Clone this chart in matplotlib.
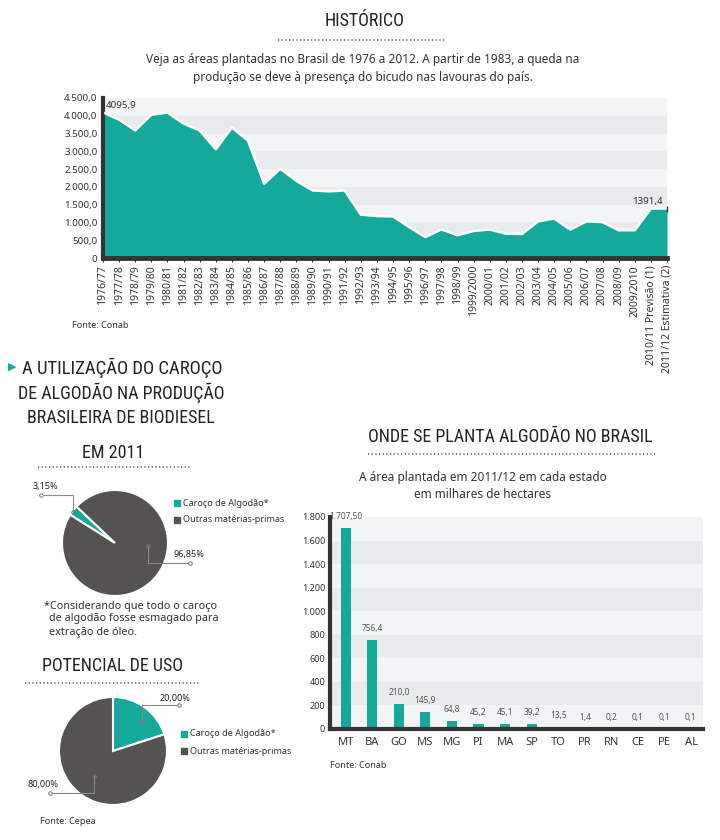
"""Infográfico algodão: histórico de área plantada, biodiesel e área por estado."""
import numpy as np
import matplotlib
matplotlib.use("Agg")
import matplotlib.pyplot as plt

W, H = 720, 840
TEAL = "#15a99b"
DARK = "#555351"
AXIS = "#333333"
TXT = "#333333"
BAND_A = "#f3f4f5"
BAND_B = "#e9eaec"

# ---- dados ----
safras = ["1976/77", "1977/78", "1978/79", "1979/80", "1980/81", "1981/82", "1982/83",
          "1983/84", "1984/85", "1985/86", "1986/87", "1987/88", "1988/89", "1989/90",
          "1990/91", "1991/92", "1992/93", "1993/94", "1994/95", "1995/96", "1996/97",
          "1997/98", "1998/99", "1999/2000", "2000/01", "2001/02", "2002/03", "2003/04",
          "2004/05", "2005/06", "2006/07", "2007/08", "2008/09", "2009/2010",
          "2010/11 Previsão (1)", "2011/12 Estimativa (2)"]
area_hist = [4095.9, 3890, 3590, 4030, 4090, 3780, 3590, 3060, 3670, 3300, 2090, 2510,
             2170, 1900, 1875, 1900, 1220, 1180, 1170, 870, 590, 805, 640, 760, 800, 685,
             675, 1030, 1110, 800, 1030, 1010, 780, 780, 1390, 1391.4]

estados = ["MT", "BA", "GO", "MS", "MG", "PI", "MA", "SP", "TO", "PR", "RN", "CE", "PE", "AL"]
area_estado = [1707.5, 756.4, 210.0, 145.9, 64.8, 45.2, 45.1, 39.2, 13.5, 1.4, 0.2, 0.1, 0.1, 0.1]
rotulos_estado = ["1.707,50", "756,4", "210,0", "145,9", "64,8", "45,2", "45,1", "39,2",
                  "13,5", "1,4", "0,2", "0,1", "0,1", "0,1"]

pie_2011 = [3.15, 96.85]
pie_potencial = [20.0, 80.0]
pie_nomes = ["Caroço de Algodão*", "Outras matérias-primas"]

plt.rcParams["font.family"] = ["Noto Sans", "DejaVu Sans"]
COND = ["Roboto Condensed", "DejaVu Sans Condensed", "Liberation Sans Narrow", "Noto Sans"]


def box(x0, y0, x1, y1):
    return [x0 / W, 1 - y1 / H, (x1 - x0) / W, (y1 - y0) / H]


def br(v, dec=1, sep=True):
    s = f"{v:,.{dec}f}" if sep else f"{v:.{dec}f}"
    return s.replace(",", "X").replace(".", ",").replace("X", ".")


fig = plt.figure(figsize=(7.2, 8.4), dpi=100)

# ==================== histórico (área) ====================
ax = fig.add_axes(box(103, 98, 667, 258))
x = np.arange(len(safras))
for lo in range(0, 4500, 500):
    ax.axhspan(lo, lo + 500, color=BAND_B if (lo // 500) % 2 else BAND_A, lw=0, zorder=0)
ax.fill_between(x, area_hist, color=TEAL, lw=0, zorder=2)
ax.plot(x, area_hist, color="white", lw=1.8, zorder=3)
ax.set_xlim(0, len(safras) - 1)
ax.set_ylim(0, 4500)
ax.set_yticks(range(0, 4501, 500))
ax.set_yticklabels(["0"] + [br(v) for v in range(500, 4501, 500)], fontsize=7, color=TXT)
ax.set_xticks(x)
ax.set_xticklabels(safras, rotation=90, fontsize=7.5, color=TXT)
for lbl in ax.get_xticklabels()[-2:]:
    lbl.set_fontweight("bold")
ax.tick_params(axis="y", length=0, pad=4)
ax.tick_params(axis="x", length=3, color=AXIS, pad=2)
for s in ["top", "right"]:
    ax.spines[s].set_visible(False)
ax.spines["left"].set_linewidth(3)
ax.spines["left"].set_color(AXIS)
ax.spines["bottom"].set_linewidth(3.5)
ax.spines["bottom"].set_color(AXIS)
ax.plot(0, area_hist[0], marker="|", ms=5, color=AXIS, zorder=4, clip_on=False)
ax.annotate(br(area_hist[0], sep=False), (0, area_hist[0]), xytext=(2, 2),
            textcoords="offset points", fontsize=7, color=TXT, ha="left", va="bottom")
ax.plot(x[-1], area_hist[-1], marker="|", ms=5, color=AXIS, zorder=4, clip_on=False)
ax.annotate(br(area_hist[-1], sep=False), (x[-1], area_hist[-1]), xytext=(-3, 2),
            textcoords="offset points", fontsize=7, color=TXT, ha="right", va="bottom")

# ==================== área por estado (barras) ====================
bx = fig.add_axes(box(330, 517, 703, 729))
xb = np.arange(len(estados))
for lo in range(0, 1800, 200):
    bx.axhspan(lo, lo + 200, color=BAND_B if (lo // 200) % 2 else BAND_A, lw=0, zorder=0)
bx.bar(xb, area_estado, width=0.38, color=TEAL, zorder=2)
for xi, v, t in zip(xb, area_estado, rotulos_estado):
    bx.annotate(t, (xi, v), xytext=(0, 5), textcoords="offset points", ha="center",
                va="bottom", fontsize=6, color="#555555")
bx.set_xlim(-0.59, 13.45)
bx.set_ylim(0, 1800)
bx.set_yticks(range(0, 1801, 200))
bx.set_yticklabels(["0"] + [br(v, 0) for v in range(200, 1801, 200)], fontsize=6.5, color=TXT)
bx.set_xticks(xb)
bx.set_xticklabels(estados, fontsize=8, color=TXT)
bx.tick_params(length=0)
bx.tick_params(axis="x", pad=6)
for s in ["top", "right"]:
    bx.spines[s].set_visible(False)
for s in ["left", "bottom"]:
    bx.spines[s].set_linewidth(3)
    bx.spines[s].set_color(AXIS)

# ==================== pizzas ====================
wp = dict(edgecolor="white", linewidth=1.5)
p1 = fig.add_axes(box(62, 490, 168, 596))
p1.pie(pie_2011, colors=[TEAL, DARK], startangle=136.5, counterclock=True, wedgeprops=wp)
p1.set_xlim(-1, 1); p1.set_ylim(-1, 1); p1.set_aspect("equal")

p2 = fig.add_axes(box(59, 697, 167, 805))
p2.pie(pie_potencial, colors=[TEAL, DARK], startangle=90, counterclock=False, wedgeprops=wp)
p2.set_xlim(-1, 1); p2.set_ylim(-1, 1); p2.set_aspect("equal")

# ==================== textos e decorações ====================
ov = fig.add_axes([0, 0, 1, 1])
ov.set_xlim(0, W); ov.set_ylim(H, 0); ov.axis("off")


def dots(x0, x1, y):
    ov.plot([x0, x1], [y, y], color="#555555", lw=1.1, ls=(0, (0.8, 1.6)))


def title(s, xc, y, ha="center", size=13):
    ov.text(xc, y, s, ha=ha, va="center", fontsize=size, family=COND, color="#222222")


title("HISTÓRICO", 365, 21)
dots(278, 445, 40)
ov.text(363, 60, "Veja as áreas plantadas no Brasil de 1976 a 2012. A partir de 1983, a queda na",
        ha="center", va="center", fontsize=8.5, color=TXT)
ov.text(363, 78, "produção se deve à presença do bicudo nas lavouras do país.",
        ha="center", va="center", fontsize=8.5, color=TXT)
ov.text(72, 325, "Fonte: Conab", ha="left", va="center", fontsize=6.5, color=TXT)

ov.text(8, 367, "▶", ha="left", va="center", fontsize=8, color=TEAL)
title("A UTILIZAÇÃO DO CAROÇO", 22, 368, ha="left", size=13.5)
title("DE ALGODÃO NA PRODUÇÃO", 121, 393)
title("BRASILEIRA DE BIODIESEL", 121, 418)
title("EM 2011", 113, 453)
dots(38, 192, 467)

title("POTENCIAL DE USO", 112, 666)
dots(25, 200, 683)

title("ONDE SE PLANTA ALGODÃO NO BRASIL", 510, 437)
dots(368, 655, 454)
ov.text(483, 477, "A área plantada em 2011/12 em cada estado", ha="center", va="center",
        fontsize=8.5, color=TXT)
ov.text(483, 494, "em milhares de hectares", ha="center", va="center", fontsize=8.5, color=TXT)
ov.text(330, 765, "Fonte: Conab", ha="left", va="center", fontsize=6.5, color=TXT)


def leader(pts, label, lx, ly):
    xs, ys = zip(*pts)
    ov.plot(xs, ys, color="#888888", lw=0.8)
    ov.plot(xs[0], ys[0], "o", ms=2.5, mfc="none", mec="#777777", mew=0.7)
    ov.plot(xs[-1], ys[-1], "o", ms=2.5, mfc="white", mec="#777777", mew=0.7)
    ov.text(lx, ly, label, ha="center", va="center", fontsize=6.5, color="#222222")


leader([(73, 512), (73, 495), (41, 495)], br(pie_2011[0], 2) + "%", 45, 487)
leader([(148, 546), (148, 563), (190, 563)], br(pie_2011[1], 2) + "%", 189, 554)
leader([(142, 722), (142, 705), (179, 705)], br(pie_potencial[0], 2) + "%", 175, 698)
leader([(94, 776), (94, 793), (50, 793)], br(pie_potencial[1], 2) + "%", 43, 784)


def legend(x0, y0, dy):
    for i, (nome, c) in enumerate(zip(pie_nomes, [TEAL, DARK])):
        ov.plot(x0, y0 + i * dy, "s", ms=4, color=c)
        ov.text(x0 + 6, y0 + i * dy, nome, ha="left", va="center", fontsize=6.5, color=TXT)


legend(177, 503, 17)
legend(184, 734, 17)

for i, t in enumerate(["*Considerando que todo o caroço", "de algodão fosse esmagado para",
                       "extração de óleo."]):
    ov.text(44 if i == 0 else 49, 606 + i * 13, t, ha="left", va="center", fontsize=7.8, color=TXT)
ov.text(40, 822, "Fonte: Cepea", ha="left", va="center", fontsize=6.5, color=TXT)

fig.savefig("out.png", dpi=100)
